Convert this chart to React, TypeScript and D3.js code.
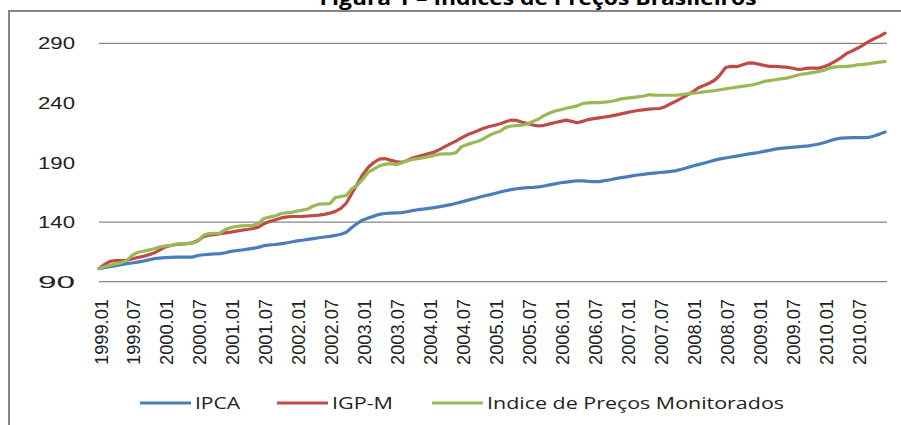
import React from 'react';
import * as d3 from 'd3';

const years = [1999, 2000, 2001, 2002, 2003, 2004, 2005, 2006, 2007, 2008, 2009, 2010];
const monthCodes = ['01', '02', '03', '04', '05', '06', '07', '08', '09', '10', '11', '12'];
const months = years.flatMap(y => monthCodes.map(m => `${y}.${m}`));
const yTicks = [90, 140, 190, 240, 290];
const gridTicks = [90, 140, 290]; // the 190/240 lines are not visible in the source

const ipca = [
  101, 101.8, 102.6, 103.4, 104.3, 105.2, 105.7, 106.4, 107.2, 108.3, 109.3, 109.8,
  110.2, 110.4, 110.6, 110.7, 110.6, 110.6, 112, 112.6, 113, 113.3, 113.6, 114.3,
  115.4, 116, 116.6, 117.3, 118, 118.8, 120.2, 120.8, 121.2, 121.8, 122.5, 123.3,
  124.2, 124.8, 125.5, 126.2, 126.9, 127.5, 128, 128.8, 129.8, 131.5, 135.5, 139,
  141.8, 143.5, 145, 146.5, 147.2, 147.5, 147.7, 148, 148.7, 149.6, 150.4, 150.9,
  151.5, 152.2, 153, 153.8, 154.6, 155.8, 157, 158.2, 159.4, 160.6, 161.9, 162.8,
  164, 165.2, 166.3, 167.3, 168, 168.5, 168.9, 169.1, 169.5, 170.3, 171.2, 172.1,
  173, 173.6, 174.2, 174.7, 174.6, 174.2, 174, 174, 174.8, 175.5, 176.5, 177.3,
  178, 178.8, 179.5, 180.1, 180.6, 181.1, 181.6, 182, 182.5, 183.2, 184.3, 185.6,
  187, 188.2, 189.4, 190.6, 192, 193, 193.8, 194.6, 195.4, 196.2, 197, 197.7,
  198.4, 199.3, 200.2, 201.2, 201.9, 202.3, 202.7, 203.1, 203.5, 204, 204.7, 205.5,
  206.8, 208.3, 209.6, 210.4, 210.7, 210.8, 210.8, 210.8, 211, 212.2, 213.8, 215.6,
];

const igpm = [
  101, 104.5, 107, 107.8, 107.8, 108, 109, 110.3, 111.2, 112.5, 114, 116.5,
  119, 120.3, 121.2, 121.5, 122, 122.6, 124.5, 127.8, 129, 129.5, 130.2, 130.9,
  131.6, 132.4, 133.2, 133.8, 134.6, 135.8, 138.5, 140.5, 141.8, 143.3, 144.2, 144.7,
  144.7, 144.8, 145.1, 145.4, 145.8, 146.5, 147.5, 149, 151.5, 156, 164, 172,
  180, 186, 190, 192.8, 193.3, 192, 190.8, 190.2, 191.5, 193.8, 195, 196.2,
  197.6, 198.8, 201, 203.5, 205.8, 208.2, 210.8, 213.2, 215, 216.8, 218.8, 220.2,
  221.2, 222.5, 224.2, 225.6, 225.3, 223.8, 222.6, 221.4, 220.6, 221.2, 222.4, 223.5,
  224.5, 225.5, 224.5, 223.3, 224.5, 226, 226.8, 227.5, 228.2, 228.9, 229.8, 230.8,
  231.8, 232.8, 233.6, 234.2, 234.8, 235.1, 235.3, 236.8, 239.3, 241.5, 244, 246.5,
  249.2, 252.5, 254.5, 256.5, 259, 263.6, 269.7, 270.6, 270.4, 271.8, 273.3, 273.5,
  272.5, 271.5, 270.6, 270.6, 270.3, 270, 269.3, 268.2, 268.4, 269.2, 269.2, 269.2,
  270.5, 272.5, 275, 278, 281.5, 283.5, 285.8, 288.5, 291.4, 293.8, 295.8, 298.5,
];

const monitorados = [
  101, 102.5, 103.8, 105, 106, 107.5, 112, 114.5, 115.5, 116.5, 117.6, 119,
  120, 120.2, 121.5, 122, 122, 122.3, 124, 129, 130.3, 130.5, 130.8, 133.8,
  135.5, 136.3, 136.8, 137, 137.3, 138.6, 143, 144.2, 145, 147, 147.8, 148.2,
  149.2, 150, 151, 153.5, 155, 155.3, 155.5, 160.5, 161.5, 162.3, 168, 171,
  176, 182, 184.5, 187.2, 188.5, 189, 188.2, 189.5, 191.4, 192.6, 193.2, 194,
  194.8, 196, 197, 197.2, 197.2, 198.5, 203.5, 205, 206.5, 207.8, 210, 212.8,
  214.8, 216.2, 219.5, 220.6, 221, 221.3, 222.5, 224.5, 226.5, 229.5, 231.5, 233.2,
  234.3, 235.5, 236.5, 237.5, 239.5, 240, 240.2, 240.3, 240.6, 241.2, 242, 243.4,
  244, 244.5, 245, 245.6, 246.9, 246.6, 246.4, 246.4, 246.4, 246.4, 247, 247.6,
  248.2, 248.5, 249.2, 249.8, 250.3, 251, 251.8, 252.5, 253.2, 253.8, 254.5, 255.2,
  256.5, 258, 258.7, 259.4, 260.2, 260.8, 261.8, 263.2, 264.2, 264.8, 265.6, 266.5,
  267.5, 269.4, 270.2, 270.5, 270.6, 271, 272, 272.3, 272.8, 273.6, 274.2, 274.7,
];

const seriesNames = ['IPCA', 'IGP-M', 'Indice de Preços Monitorados'];
const seriesColors = ['#4a7ebb', '#be4b48', '#98b954'];
const seriesValues = [ipca, igpm, monitorados];

export default function App() {
  const width = 901;
  const height = 425;

  const x = d3.scalePoint<string>().domain(months).range([99, 885]);
  const y = d3.scaleLinear().domain([90, 290]).range([281.7, 43.3]);

  const line = d3
    .line<number>()
    .x((_, i) => x(months[i]) as number)
    .y(d => y(d));

  const tickLabels = months.filter((_, i) => i % 6 === 0);

  const legendX = [140, 277, 432];
  const legendTextLen = [45, 61, 297];

  return (
    <svg
      width={width}
      height={height}
      style={{ position: 'absolute', left: 0, top: 0, background: '#fff', overflow: 'hidden' }}
    >
      <text
        x={538}
        y={5}
        textAnchor="middle"
        fontFamily="'Open Sans', sans-serif"
        fontWeight="bold"
        fontSize={20}
        textLength={437}
        lengthAdjust="spacingAndGlyphs"
        fill="#000"
      >
        Figura 1 – Índices de Preços Brasileiros
      </text>

      <rect x={9} y={11} width={920} height={440} fill="none" stroke="#868686" strokeWidth={2} />

      {gridTicks.map(t => (
        <line key={t} x1={99} x2={887} y1={y(t)} y2={y(t)} stroke="#868686" strokeWidth={1.3} />
      ))}

      {yTicks.map(t => (
        <text
          key={t}
          x={75}
          y={y(t) + 6}
          textAnchor="end"
          fontFamily="'Liberation Sans', Arial, sans-serif"
          fontSize={17}
          textLength={37}
          lengthAdjust="spacingAndGlyphs"
          fill="#222"
        >
          {t}
        </text>
      ))}

      {tickLabels.map(m => (
        <text
          key={m}
          transform={`translate(${(x(m) as number) + 8.5},299) rotate(-90)`}
          textAnchor="end"
          fontFamily="'Liberation Sans', Arial, sans-serif"
          fontSize={18}
          textLength={66}
          lengthAdjust="spacingAndGlyphs"
          fill="#222"
        >
          {m}
        </text>
      ))}

      {seriesValues.map((vals, k) => (
        <path
          key={seriesNames[k]}
          d={line(vals) || ''}
          fill="none"
          stroke={seriesColors[k]}
          strokeWidth={3.2}
          strokeLinejoin="round"
          strokeLinecap="round"
        />
      ))}

      {seriesNames.map((name, k) => (
        <g key={name}>
          <line
            x1={legendX[k]}
            x2={legendX[k] + 51}
            y1={403}
            y2={403}
            stroke={seriesColors[k]}
            strokeWidth={3.2}
          />
          <text
            x={legendX[k] + 55}
            y={409}
            fontFamily="'Open Sans', sans-serif"
            fontSize={16.5}
            textLength={legendTextLen[k]}
            lengthAdjust="spacingAndGlyphs"
            fill="#222"
          >
            {name}
          </text>
        </g>
      ))}
    </svg>
  );
}
